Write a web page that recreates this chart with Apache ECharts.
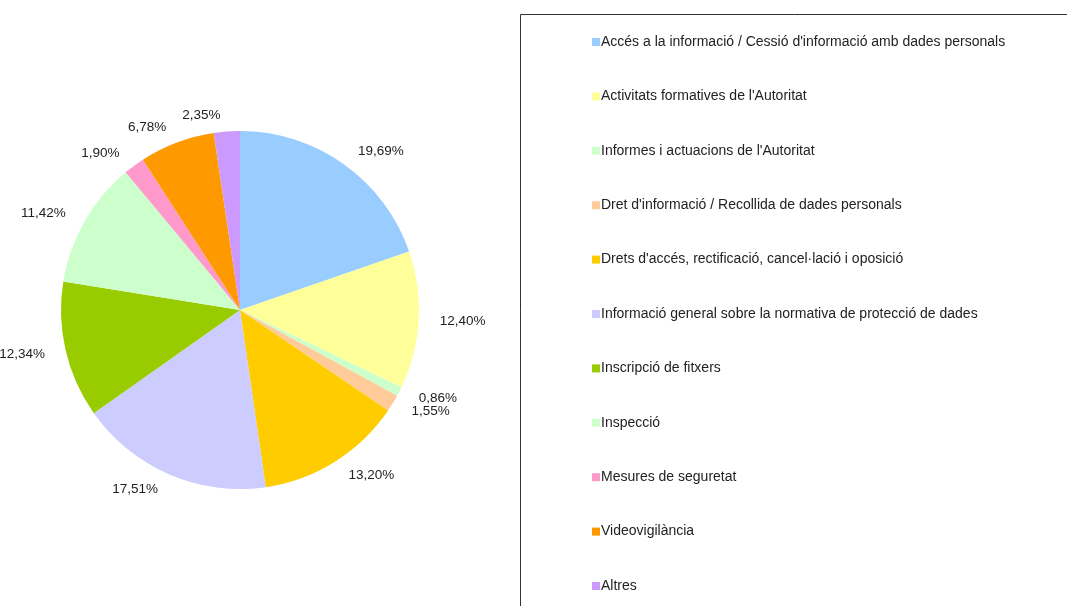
<!DOCTYPE html>
<html>
<head>
<meta charset="utf-8">
<script src="https://cdn.jsdelivr.net/npm/echarts@6/dist/echarts.min.js"></script>
<style>
    html, body { margin: 0; padding: 0; background: #fff; }
    #chart { width: 1067px; height: 606px; }
</style>
</head>
<body>
<div id="chart"></div>
<script>
const categories = [
    'Accés a la informació / Cessió d\'informació amb dades personals',
    'Activitats formatives de l\'Autoritat',
    'Informes i actuacions de l\'Autoritat',
    'Dret d\'informació / Recollida de dades personals',
    'Drets d\'accés, rectificació, cancel·lació i oposició',
    'Informació general sobre la normativa de protecció de dades',
    'Inscripció de fitxers',
    'Inspecció',
    'Mesures de seguretat',
    'Videovigilància',
    'Altres'
]
const values = [19.69, 12.40, 0.86, 1.55, 13.20, 17.51, 12.34, 11.42, 1.90, 6.78, 2.35]
const colors = ['#99CCFF', '#FFFF99', '#CCFFCC', '#FFCC99', '#FFCC00', '#CCCCFF', '#99CC00', '#CCFFCC', '#FF99CC', '#FF9900', '#CC99FF']

const chart = echarts.init(document.getElementById('chart'))
chart.setOption({
    animation: false,
    color: colors,
    textStyle: { fontFamily: 'Liberation Sans, Arial, sans-serif' },
    graphic: [{
        type: 'rect',
        shape: { x: 520.5, y: 14.5, width: 600, height: 620 },
        style: { fill: 'none', stroke: '#333', lineWidth: 1 }
    }],
    legend: {
        orient: 'vertical',
        left: 592,
        top: 35,
        padding: 0,
        itemWidth: 8,
        itemHeight: 8,
        itemGap: 40.4,
        icon: 'rect',
        data: categories,
        textStyle: { fontSize: 14, color: '#222', lineHeight: 14, padding: [0, 0, 0, -4] }
    },
    series: [{
        type: 'pie',
        center: [240, 310],
        radius: 179,
        startAngle: 90,
        clockwise: true,
        avoidLabelOverlap: false,
        labelLayout: { hideOverlap: false },
        label: {
            show: true,
            position: 'outside',
            fontSize: 13.5,
            color: '#222',
            formatter: p => p.value.toFixed(2).replace('.', ',') + '%'
        },
        labelLine: { show: false, length: 16, length2: 0 },
        itemStyle: { borderWidth: 0 },
        emphasis: { disabled: true },
        data: categories.map((name, i) => ({ name: name, value: values[i] }))
    }]
})
</script>
</body>
</html>
